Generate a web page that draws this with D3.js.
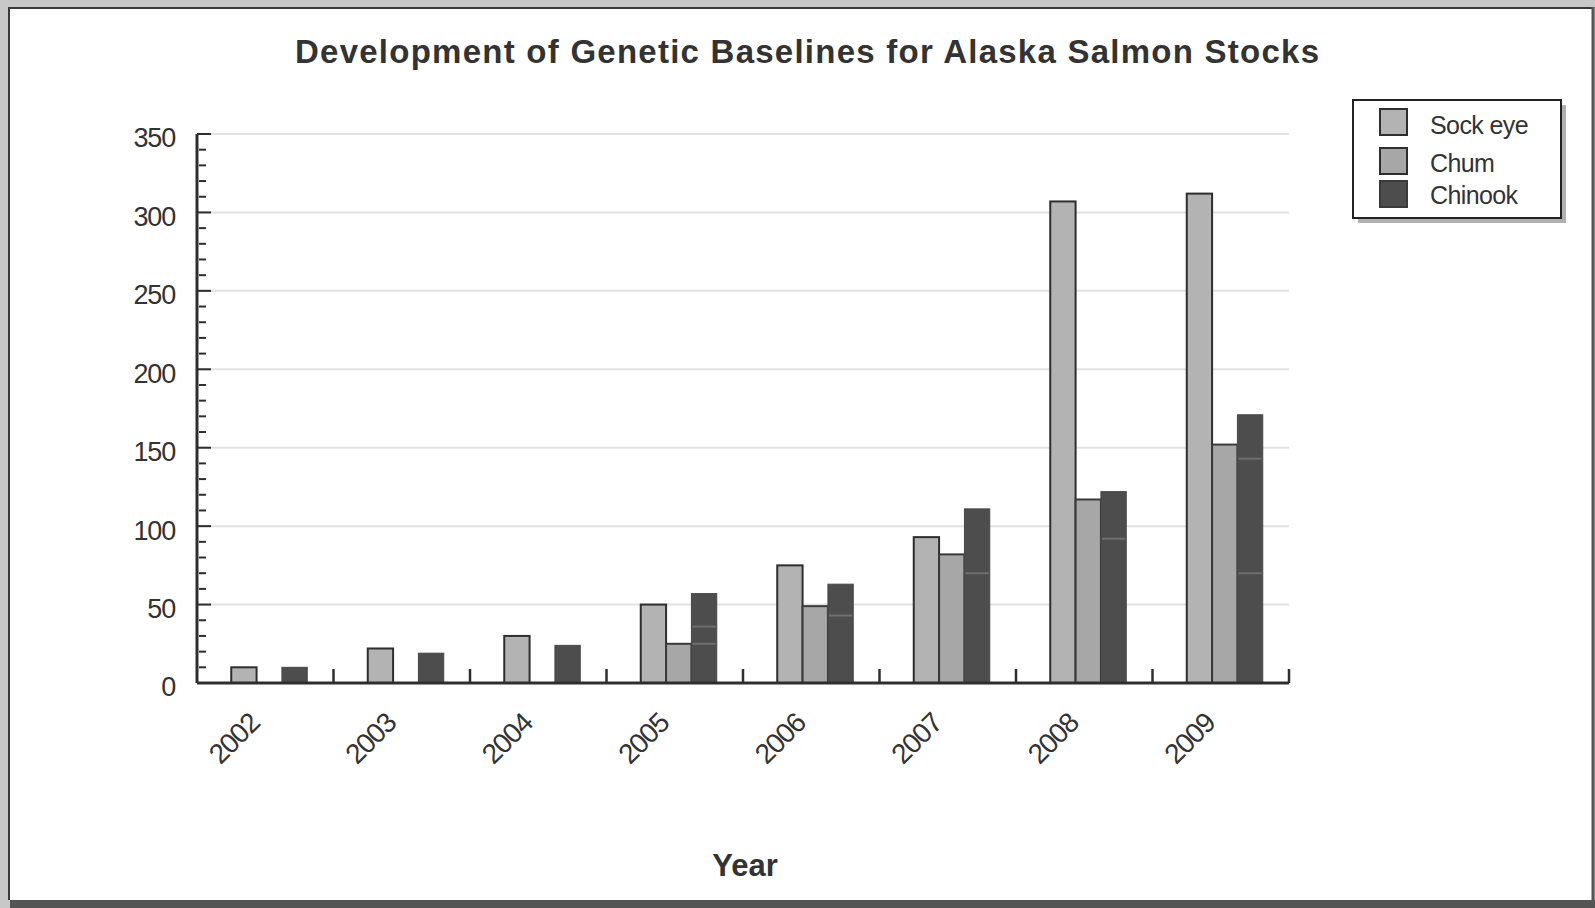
<!DOCTYPE html>
<html>
<head>
<meta charset="utf-8">
<script src="https://cdn.jsdelivr.net/npm/d3@7"></script>
<style>
  html, body { margin: 0; padding: 0; background: #c8c8c8; }
  svg { display: block; }
</style>
</head>
<body>
<svg id="chart" width="1595" height="908"></svg>
<script>
// Genetic baselines developed per year, by species
const years = ["2002", "2003", "2004", "2005", "2006", "2007", "2008", "2009"];
const seriesNames = ["Sockeye", "Chum", "Chinook"];
const legendLabels = ["Sock eye", "Chum", "Chinook"];
const sockeye = [10, 22, 30, 50, 75, 93, 307, 312];
const chum = [0, 0, 0, 25, 49, 82, 117, 152];
const chinook = [10, 19, 24, 57, 63, 111, 122, 171];
// lighter seams visible inside the Chinook bars (values on the count axis)
const chinookSeams = [[], [], [], [25, 36], [43], [70], [92], [70, 143]];
const yTicks = [0, 50, 100, 150, 200, 250, 300, 350];
const fills = { Sockeye: "#b3b3b3", Chum: "#a7a7a7", Chinook: "#4d4d4d" };
const strokes = { Sockeye: "#2e2e2e", Chum: "#3a3a3a", Chinook: "#474747" };

const svg = d3.select("#chart");
const W = 1595, H = 908;
const FONT = "Liberation Sans, Arial, sans-serif";

// page frame
svg.append("rect").attr("x", 0).attr("y", 0).attr("width", W).attr("height", H).attr("fill", "#c8c8c8");
svg.append("rect").attr("x", 9).attr("y", 7).attr("width", 1583).attr("height", 893).attr("fill", "#ffffff");
svg.append("line").attr("x1", 9).attr("x2", 1592).attr("y1", 8).attr("y2", 8).attr("stroke", "#3a3a3a").attr("stroke-width", 2);
svg.append("line").attr("x1", 9).attr("x2", 9).attr("y1", 7).attr("y2", 900).attr("stroke", "#3a3a3a").attr("stroke-width", 2);
svg.append("line").attr("x1", 1593).attr("x2", 1593).attr("y1", 7).attr("y2", 908).attr("stroke", "#555").attr("stroke-width", 3);
svg.append("rect").attr("x", 10).attr("y", 900).attr("width", W - 10).attr("height", 8).attr("fill", "#545454");

const plot = { left: 197, right: 1289, top: 134, bottom: 683 };

const x0 = d3.scaleBand().domain(years).range([plot.left, plot.right]).padding(0);
const groupW = 76;
const x1 = d3.scaleBand().domain(seriesNames).range([0, groupW]).padding(0);
const groupOffset = (x0.bandwidth() - groupW) / 2 + 4;
const y = d3.scaleLinear().domain([0, 350]).range([plot.bottom, plot.top]);

// horizontal gridlines
svg.append("g").selectAll("line").data(yTicks.filter(d => d > 0)).join("line")
  .attr("x1", plot.left).attr("x2", plot.right)
  .attr("y1", d => y(d)).attr("y2", d => y(d))
  .attr("stroke", "#e2e2e2").attr("stroke-width", 2);

// title
svg.append("text")
  .attr("x", 807).attr("y", 63)
  .attr("text-anchor", "middle")
  .attr("font-family", FONT)
  .attr("font-weight", "bold").attr("font-size", 33)
  .attr("fill", "#333")
  .attr("textLength", 1024).attr("lengthAdjust", "spacing")
  .text("Development of Genetic Baselines for Alaska Salmon Stocks");

// bars
const rows = years.map((yr, i) => ({ year: yr, Sockeye: sockeye[i], Chum: chum[i], Chinook: chinook[i], seams: chinookSeams[i] }));
const groups = svg.append("g").selectAll("g").data(rows).join("g")
  .attr("transform", d => `translate(${x0(d.year) + groupOffset},0)`);

groups.selectAll("rect").data(d => seriesNames.map(s => ({ s, v: d[s] })).filter(e => e.v > 0)).join("rect")
  .attr("x", e => x1(e.s))
  .attr("width", x1.bandwidth())
  .attr("y", e => y(e.v))
  .attr("height", e => y(0) - y(e.v))
  .attr("fill", e => fills[e.s])
  .attr("stroke", e => strokes[e.s])
  .attr("stroke-width", e => e.s === "Chinook" ? 1 : 2);

groups.selectAll("line.seam").data(d => d.seams).join("line")
  .attr("class", "seam")
  .attr("x1", x1("Chinook") + 1).attr("x2", x1("Chinook") + x1.bandwidth() - 1)
  .attr("y1", v => y(v)).attr("y2", v => y(v))
  .attr("stroke", "#6e6e6e").attr("stroke-width", 2);

// y axis: line, major and minor ticks pointing into the plot
const yAxis = svg.append("g");
yAxis.append("line").attr("x1", plot.left).attr("x2", plot.left).attr("y1", plot.top).attr("y2", plot.bottom)
  .attr("stroke", "#2e2e2e").attr("stroke-width", 3);
const minor = d3.range(0, 351, 10).filter(v => v % 50 !== 0);
yAxis.selectAll("line.minor").data(minor).join("line").attr("class", "minor")
  .attr("x1", plot.left + 2).attr("x2", plot.left + 9)
  .attr("y1", v => y(v)).attr("y2", v => y(v))
  .attr("stroke", "#2e2e2e").attr("stroke-width", 2);
yAxis.selectAll("line.major").data(yTicks.filter(v => v > 0)).join("line").attr("class", "major")
  .attr("x1", plot.left).attr("x2", plot.left + 14)
  .attr("y1", v => y(v)).attr("y2", v => y(v))
  .attr("stroke", "#2e2e2e").attr("stroke-width", 2);
yAxis.selectAll("text").data(yTicks).join("text")
  .attr("x", 175).attr("y", v => y(v) + 4)
  .attr("dy", "0.35em")
  .attr("text-anchor", "end")
  .attr("font-family", FONT)
  .attr("font-size", 27).attr("letter-spacing", -1.2)
  .attr("fill", "#333")
  .text(v => v);

// x axis: baseline, category separator ticks, rotated year labels
const xAxis = svg.append("g");
xAxis.append("line").attr("x1", plot.left).attr("x2", plot.right).attr("y1", plot.bottom).attr("y2", plot.bottom)
  .attr("stroke", "#2e2e2e").attr("stroke-width", 3);
xAxis.selectAll("line.sep").data(years.slice(1).concat(["end"])).join("line").attr("class", "sep")
  .attr("x1", (d, i) => i < years.length - 1 ? x0(d) : plot.right)
  .attr("x2", (d, i) => i < years.length - 1 ? x0(d) : plot.right)
  .attr("y1", plot.bottom).attr("y2", plot.bottom - 14)
  .attr("stroke", "#2e2e2e").attr("stroke-width", 2.5);
xAxis.selectAll("text").data(years).join("text")
  .attr("transform", d => `translate(${x0(d) + x0.bandwidth() / 2 - 11},${plot.bottom + 35}) rotate(-45)`)
  .attr("text-anchor", "end")
  .attr("dy", "0.35em")
  .attr("font-family", FONT)
  .attr("font-size", 28).attr("letter-spacing", -1.2)
  .attr("fill", "#333")
  .text(d => d);

// x axis title
svg.append("text")
  .attr("x", 745).attr("y", 876)
  .attr("text-anchor", "middle")
  .attr("font-family", FONT)
  .attr("font-weight", "bold").attr("font-size", 31)
  .attr("fill", "#333")
  .text("Year");

// legend with drop shadow
const lg = svg.append("g");
lg.append("rect").attr("x", 1358).attr("y", 105).attr("width", 208).attr("height", 118).attr("fill", "#b0b0b0");
lg.append("rect").attr("x", 1353).attr("y", 100).attr("width", 208).attr("height", 118)
  .attr("fill", "#ffffff").attr("stroke", "#222").attr("stroke-width", 2);
const swatchY = [109, 148, 181];
const textY = [134, 172, 204];
seriesNames.forEach((s, i) => {
  lg.append("rect").attr("x", 1380).attr("y", swatchY[i]).attr("width", 27).attr("height", 26)
    .attr("fill", fills[s]).attr("stroke", s === "Chinook" ? "#3a3a3a" : "#2e2e2e").attr("stroke-width", 2);
  lg.append("text").attr("x", 1430).attr("y", textY[i])
    .attr("font-family", FONT)
    .attr("font-size", 25).attr("letter-spacing", -0.6)
    .attr("fill", "#333")
    .text(legendLabels[i]);
});
</script>
</body>
</html>
